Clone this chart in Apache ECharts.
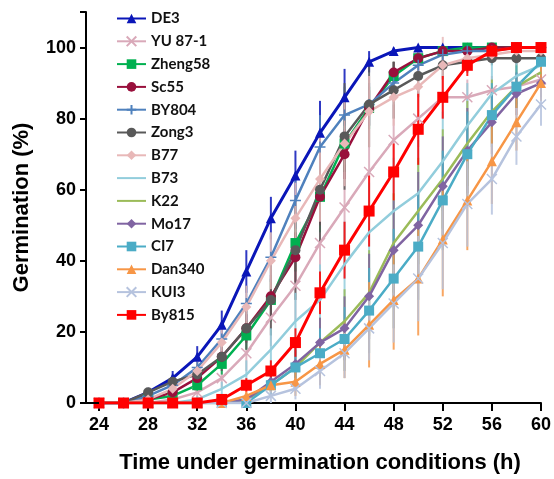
<!DOCTYPE html>
<html><head><meta charset="utf-8">
<script src="https://cdn.jsdelivr.net/npm/echarts@6/dist/echarts.min.js"></script>
<style>html,body{margin:0;padding:0;background:#fff}#c{width:554px;height:479px}</style>
</head><body><div id="c"></div>
<script>
const hours = [24,26,28,30,32,34,36,38,40,42,44,46,48,50,52,54,56,58,60];
const xTicks = [24,28,32,36,40,44,48,52,56,60];
const yTicks = [0,20,40,60,80,100];
const names = ['DE3','YU 87-1','Zheng58','Sc55','BY804','Zong3','B77','B73','K22','Mo17','CI7','Dan340','KUI3','By815'];
// mean germination (%)
const DE3    = [0,0,3,7,13,22,37,52,64,76,86,96,99,100,100,100,100,100,100];
const YU871  = [0,0,0,1,3,7,14,24,33,45,55,65,74,80,86,86,88,89,91];
const Zheng58= [0,0,1,2,5,11,19,29,45,58,73,83,92,97,99,100,100,100,100];
const Sc55   = [0,0,1,3,7,13,21,30,41,58,70,83,93,97,99,99,100,100,100];
const BY804  = [0,0,2,5,10,18,28,41,57,72,81,84,90,95,98,99,99,100,100];
const Zong3  = [0,0,3,6,8,13,21,29,43,60,75,84,88,92,95,96,97,97,97];
const B77    = [0,0,1,4,9,17,27,40,52,63,73,82,86,89,95,97,98,99,99];
const B73    = [0,0,0,0,1,4,8,15,23,29,39,48,54,59,68,78,87,92,95];
const K22    = [0,0,0,0,0,0,1,5,10,17,23,31,45,54,63,73,82,89,93];
const Mo17   = [0,0,0,0,0,0,1,6,11,17,21,30,43,50,61,71,79,87,90];
const CI7    = [0,0,0,0,0,0,0,5,10,14,18,26,35,44,57,70,81,89,96];
const Dan340 = [0,0,0,0,0,0,2,5,6,11,15,22,29,35,46,57,68,79,90];
const KUI3   = [0,0,0,0,0,0,0,2,4,9,14,21,28,35,45,56,63,75,84];
const By815  = [0,0,0,0,0,1,5,9,17,31,43,54,65,77,86,95,99,100,100];
// error bar half-lengths (%)
const DE3err    = [0,0,1,2,3,4,6,6,7,9,8,3,1,0,0,0,0,0,0];
const YU871err  = [0,0,0,1,2,3,5,8,10,12,12,12,10,8,6,5,4,3,3];
const Zheng58err= [0,0,1,1,2,3,4,6,8,10,8,6,4,2,1,0,0,0,0];
const Sc55err   = [0,0,1,1,2,3,4,6,7,8,7,5,3,2,1,1,0,0,0];
const BY804err  = [0,0,1,2,3,4,5,7,8,9,8,6,4,3,2,1,1,0,0];
const Zong3err  = [0,0,1,2,3,4,6,10,14,15,15,12,8,6,4,3,2,2,2];
const B77err    = [0,0,1,2,3,4,6,8,10,12,12,10,8,10,8,4,2,1,1];
const B73err    = [0,0,0,0,1,2,4,6,8,10,12,14,15,15,14,12,10,8,6];
const K22err    = [0,0,0,0,0,0,1,3,5,7,9,12,14,15,14,12,9,6,4];
const Mo17err   = [0,0,0,0,0,0,1,3,5,7,9,12,14,15,14,12,9,6,4];
const CI7err    = [0,0,0,0,0,0,1,3,5,7,9,12,14,15,14,12,9,6,4];
const Dan340err = [0,0,0,0,0,0,1,2,4,6,8,12,14,16,16,14,12,8,5];
const KUI3err   = [0,0,0,0,0,0,1,2,3,5,7,9,11,12,13,12,10,8,6];
const By815err  = [0,0,0,0,0,1,2,3,4,6,8,10,8,10,6,3,1,0,0];
const values = [DE3,YU871,Zheng58,Sc55,BY804,Zong3,B77,B73,K22,Mo17,CI7,Dan340,KUI3,By815];
const errors = [DE3err,YU871err,Zheng58err,Sc55err,BY804err,Zong3err,B77err,B73err,K22err,Mo17err,CI7err,Dan340err,KUI3err,By815err];
const colors = ['#0a16b8','#d9a9b9','#00b050','#99103c','#4f81bd','#595959','#e8b8b8','#92cddc','#9bbb59','#8064a2','#4bacc6','#f79646','#b6c3de','#ff0000'];

const X = 'path://M0,0L10,10M10,0L0,10';
const PLUS = 'path://M5,0L5,10M0,5L10,5';
const symbols = ['triangle',X,'rect','circle',PLUS,'circle','diamond','none','none','diamond','rect','triangle',X,'rect'];
const sizes = [10,10,10,10,11,10,10,6,6,10,10,10,10,11];
const widths = [3,2.5,2.5,2.5,2.5,2.5,2.5,2.5,2.5,2.5,2.5,2.5,2.5,3];

const chart = echarts.init(document.getElementById('c'), null, {renderer:'canvas'});
const lineSeries = names.map((n,i)=>({
  name:n, type:'line', z:3,
  data: hours.map((h,j)=>[h, values[i][j]]),
  symbol: symbols[i], symbolSize: sizes[i], showSymbol: symbols[i] !== 'none',
  lineStyle:{color:colors[i], width:widths[i]},
  itemStyle:{color:colors[i], borderColor:colors[i], borderWidth:(symbols[i]===X||symbols[i]===PLUS)?1.5:0},
  emphasis:{disabled:true}, animation:false
}));
const errSeries = names.map((n,i)=>({
  name:n+' err', type:'custom', z:2, silent:true,
  data: hours.map((h,j)=>[h, Math.max(0, values[i][j]-errors[i][j]), Math.min(108, values[i][j]+errors[i][j])]).filter((d,j)=>errors[i][j]>0),
  renderItem:(params, api)=>{
    const lo = api.coord([api.value(0), api.value(1)]);
    const hi = api.coord([api.value(0), api.value(2)]);
    return {type:'line', shape:{x1:lo[0], y1:lo[1], x2:hi[0], y2:hi[1]}, style:{stroke:colors[i], lineWidth:2, opacity:0.85}};
  },
  encode:{x:0, y:[1,2]}, animation:false
}));
chart.setOption({
  animation:false,
  grid:{left:99, right:12, top:12, bottom:72, containLabel:false},
  legend:{
    orient:'vertical', left:111, top:6, itemWidth:29, itemHeight:12, itemGap:7.8,
    textStyle:{fontFamily:'Lato', fontWeight:'bold', fontSize:15, color:'#111', lineHeight:13},
    data: names.map((n,i)=> symbols[i]==='none' ? {name:n, itemStyle:{opacity:0}} : {name:n})
  },
  xAxis:{
    type:'value', min:24, max:60, interval:4,
    axisLine:{show:true, lineStyle:{color:'#000', width:2}},
    axisTick:{show:true, length:8, lineStyle:{color:'#000', width:2}},
    axisLabel:{color:'#000', fontFamily:'Liberation Sans', fontWeight:'bold', fontSize:18, margin:13},
    splitLine:{show:false},
    name:'Time under germination conditions (h)', nameLocation:'middle', nameGap:49,
    nameTextStyle:{color:'#000', fontFamily:'Liberation Sans', fontWeight:'bold', fontSize:22}
  },
  yAxis:{
    type:'value', min:0, max:110, interval:20, offset:13,
    axisLine:{show:true, lineStyle:{color:'#000', width:2}},
    axisTick:{show:true, length:6, lineStyle:{color:'#000', width:2}},
    axisLabel:{color:'#000', fontFamily:'Liberation Sans', fontWeight:'bold', fontSize:18, margin:10,
      formatter:v=> v<=100 ? String(v) : ''},
    splitLine:{show:false},
    name:'Germination (%)', nameLocation:'middle', nameGap:53, nameRotate:90,
    nameTextStyle:{color:'#000', fontFamily:'Liberation Sans', fontWeight:'bold', fontSize:22}
  },
  series: errSeries.concat(lineSeries)
});
const p = chart.convertToPixel({gridIndex:0}, [24,0]);
chart.setOption({graphic:[{type:'line', shape:{x1:p[0]-14, y1:p[1], x2:p[0], y2:p[1]}, style:{stroke:'#000', lineWidth:2}, z:10}]});
</script></body></html>
